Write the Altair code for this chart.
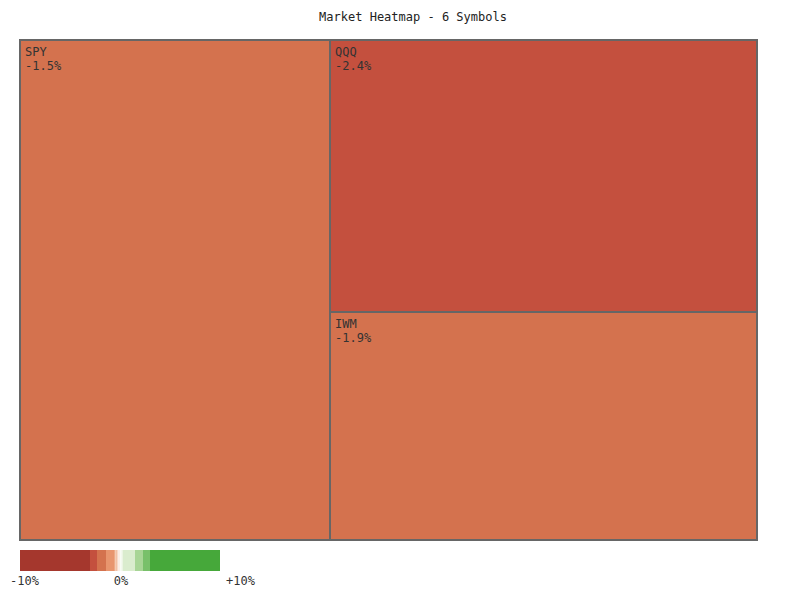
import altair as alt
import pandas as pd

# ---------------- data ----------------
symbols = ["SPY", "QQQ", "IWM"]
weights = [155.0, 116.1, 97.4]
changes = [-1.5, -2.4, -1.9]

title_text = "Market Heatmap - 6 Symbols"

# colour bins (change in %)
thresholds = [-3, -2.3, -1.4, -0.6, 0.6, 1.5, 2.3, 3]
bin_colors = ["#A5372D", "#C4503E", "#D4724E", "#E8956E", "#F4F4EE",
              "#D9EBCC", "#A8D596", "#78C06A", "#46A83A"]

# legend strip segments
legend_lo = [-10, -3, -2.3, -1.4, -0.6, -0.45, -0.3, -0.15, 0, 0.15, 0.3, 1.5, 2.3, 3]
legend_hi = [-3, -2.3, -1.4, -0.6, -0.45, -0.3, -0.15, 0, 0.15, 0.3, 1.5, 2.3, 3, 10]
legend_col = ["#A5372D", "#C4503E", "#D4724E", "#E8956E", "#EDAA86", "#F2C0A4",
              "#F7D8C6", "#FBEDE4", "#F8FBF4", "#EBF4E3", "#DAECCE", "#A8D596",
              "#78C06A", "#46A83A"]
legend_ticks = [-10, 0, 10]
legend_tick_labels = ["-10%", "0%", "+10%"]

# ---------------- squarified treemap layout ----------------
TW, TH = 737.0, 500.0


def worst(row, side):
    s = sum(row)
    mx, mn = max(row), min(row)
    return max(side * side * mx / (s * s), (s * s) / (side * side * mn))


def squarify(vals, x, y, w, h):
    total = sum(vals)
    areas = [v / total * w * h for v in vals]
    rects = []
    i = 0
    while i < len(areas):
        side = min(w, h)
        row = [areas[i]]
        j = i + 1
        while j < len(areas) and worst(row + [areas[j]], side) <= worst(row, side):
            row.append(areas[j])
            j += 1
        s = sum(row)
        if w >= h:  # column on the left
            cw = s / h
            cy = y
            for a in row:
                rh = a / cw
                rects.append((x, cy, x + cw, cy + rh))
                cy += rh
            x += cw
            w -= cw
        else:  # row on top
            rh = s / w
            cx = x
            for a in row:
                rw = a / rh
                rects.append((cx, y, cx + rw, y + rh))
                cx += rw
            y += rh
            h -= rh
        i = j
    return rects


rects = squarify(weights, 0.0, 0.0, TW, TH)
tm = pd.DataFrame({
    "symbol": symbols,
    "change": changes,
    "x0": [r[0] for r in rects],
    "y0": [r[1] for r in rects],
    "x1": [r[2] for r in rects],
    "y1": [r[3] for r in rects],
})
tm["label"] = [f"{c:.1f}%" if c < 0 else f"+{c:.1f}%" for c in changes]

leg = pd.DataFrame({"lo": legend_lo, "hi": legend_hi, "col": legend_col})
legt = pd.DataFrame({"v": legend_ticks, "t": legend_tick_labels})

FONT = "DejaVu Sans Mono"
NOVIEW = alt.ViewBackground(strokeOpacity=0, strokeWidth=0)

xs = alt.Scale(domain=[0, TW], range=[12, 749], nice=False, zero=False)
ys = alt.Scale(domain=[0, TH], range=[32, 532], nice=False, zero=False)
col_scale = alt.Scale(type="threshold", domain=thresholds, range=bin_colors)

base = alt.Chart(tm)
boxes = base.mark_rect(stroke="#666666", strokeWidth=2).encode(
    x=alt.X("x0:Q", scale=xs, axis=None),
    x2="x1:Q",
    y=alt.Y("y0:Q", scale=ys, axis=None),
    y2="y1:Q",
    color=alt.Color("change:Q", scale=col_scale, legend=None),
)
names = base.mark_text(align="left", baseline="alphabetic", dx=5, dy=16,
                       font=FONT, fontSize=12, color="#333333").encode(
    x=alt.X("x0:Q", scale=xs, axis=None),
    y=alt.Y("y0:Q", scale=ys, axis=None),
    text="symbol:N",
)
pcts = base.mark_text(align="left", baseline="alphabetic", dx=5, dy=30,
                      font=FONT, fontSize=12, color="#333333").encode(
    x=alt.X("x0:Q", scale=xs, axis=None),
    y=alt.Y("y0:Q", scale=ys, axis=None),
    text="label:N",
)
treemap = alt.layer(boxes, names, pcts).properties(view=NOVIEW)

lxs = alt.Scale(domain=[-10, 10], range=[12, 212], nice=False, zero=False)
strip = alt.Chart(leg).mark_rect().encode(
    x=alt.X("lo:Q", scale=lxs, axis=None),
    x2="hi:Q",
    y=alt.value(542),
    y2=alt.value(563),
    color=alt.Color("col:N", scale=None, legend=None),
)
lab_min = alt.Chart(legt).transform_filter("datum.v < 0").mark_text(
    align="left", baseline="alphabetic", dx=-10, font=FONT, fontSize=12, color="#333333"
).encode(x=alt.X("v:Q", scale=lxs, axis=None), y=alt.value(577), text="t:N")
lab_zero = alt.Chart(legt).transform_filter("datum.v == 0").mark_text(
    align="center", baseline="alphabetic", dx=1, font=FONT, fontSize=12, color="#333333"
).encode(x=alt.X("v:Q", scale=lxs, axis=None), y=alt.value(577), text="t:N")
lab_max = alt.Chart(legt).transform_filter("datum.v > 0").mark_text(
    align="left", baseline="alphabetic", dx=6, font=FONT, fontSize=12, color="#333333"
).encode(x=alt.X("v:Q", scale=lxs, axis=None), y=alt.value(577), text="t:N")
legend = alt.layer(strip, lab_min, lab_zero, lab_max).properties(view=NOVIEW)

title = alt.Chart(pd.DataFrame({"t": [title_text]})).mark_text(
    align="center", baseline="alphabetic", font=FONT, fontSize=12, color="#222222"
).encode(x=alt.value(405), y=alt.value(13), text="t:N")

chart = alt.layer(treemap, legend, title).resolve_scale(
    x="independent", y="independent", color="independent"
).properties(
    width=784, height=584, padding=0, autosize=alt.AutoSizeParams(type="none"),
    view=NOVIEW,
).configure_view(strokeOpacity=0, strokeWidth=0).configure(background="white")

chart.save("out.html", embed_options={"renderer": "svg", "actions": False})
